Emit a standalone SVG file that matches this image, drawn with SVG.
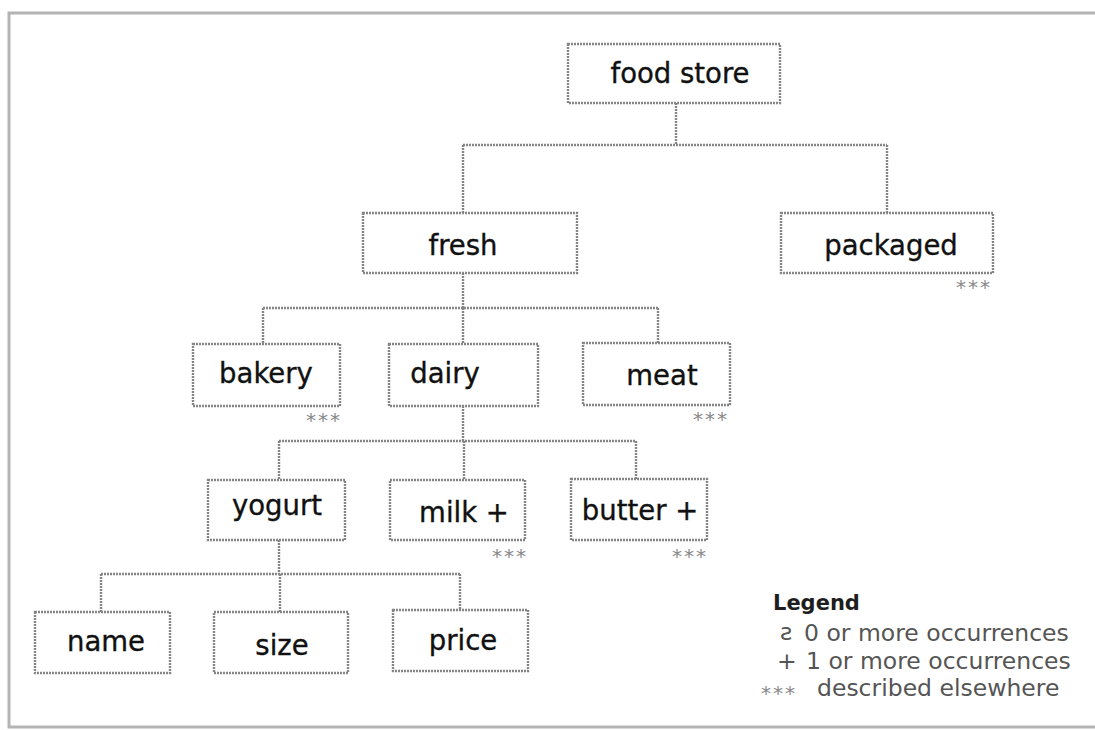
<svg xmlns="http://www.w3.org/2000/svg" width="1095" height="730" viewBox="0 0 1095 730">
<style>
.box{fill:#fff;stroke:#858585;stroke-width:2.4;stroke-dasharray:2 1}
.lbl{font-family:"DejaVu Sans",Verdana,sans-serif;font-size:27.5px;fill:#111;text-anchor:middle;stroke:#111;stroke-width:0.35}
.stars{font-family:"DejaVu Sans",sans-serif;font-size:20px;fill:#888;letter-spacing:2px}
.conn{fill:none;stroke:#858585;stroke-width:2.4;stroke-dasharray:2 1}
.leg{font-family:"DejaVu Sans",Verdana,sans-serif;font-size:23.5px;fill:#555}
</style>
<rect x="0" y="0" width="1095" height="730" fill="#fff"/>
<rect x="9" y="13" width="1092" height="714" fill="none" stroke="#b4b4b4" stroke-width="3"/>
<g id="connectors">
<path class="conn" d="M676 103V145M463 145H887M463 145V213M887 145V213"/>
<path class="conn" d="M463 273V308M263 308H658M263 308V344M463 308V344M658 308V343"/>
<path class="conn" d="M463 406V441M279 441H636M279 441V480M464 441V480M636 441V479"/>
<path class="conn" d="M279 540V574M101 574H460M101 574V612M280 574V612M460 574V610"/>
</g>
<g id="food-store"><rect class="box" x="568" y="44" width="212" height="59"/><text class="lbl" x="680" y="83">food store</text></g>
<g id="fresh"><rect class="box" x="363" y="213" width="214" height="60"/><text class="lbl" x="463" y="255">fresh</text></g>
<g id="packaged"><rect class="box" x="781" y="213" width="212" height="60"/><text class="lbl" x="891" y="255">packaged</text><text class="stars" x="956" y="294">***</text></g>
<g id="bakery"><rect class="box" x="193" y="344" width="147" height="62"/><text class="lbl" x="266" y="383">bakery</text><text class="stars" x="306" y="427">***</text></g>
<g id="dairy"><rect class="box" x="389" y="344" width="149" height="62"/><text class="lbl" x="445" y="383">dairy</text></g>
<g id="meat"><rect class="box" x="583" y="343" width="147" height="62"/><text class="lbl" x="662" y="385">meat</text><text class="stars" x="693" y="426">***</text></g>
<g id="yogurt"><rect class="box" x="208" y="480" width="137" height="60"/><text class="lbl" x="277" y="515">yogurt</text></g>
<g id="milk"><rect class="box" x="390" y="480" width="135" height="60"/><text class="lbl" x="464" y="522">milk +</text><text class="stars" x="492" y="563">***</text></g>
<g id="butter"><rect class="box" x="571" y="479" width="136" height="61"/><text class="lbl" x="640" y="520">butter +</text><text class="stars" x="672" y="563">***</text></g>
<g id="name"><rect class="box" x="35" y="612" width="135" height="61"/><text class="lbl" x="106" y="651">name</text></g>
<g id="size"><rect class="box" x="214" y="612" width="134" height="61"/><text class="lbl" x="282" y="655">size</text></g>
<g id="price"><rect class="box" x="393" y="610" width="135" height="61"/><text class="lbl" x="463" y="650">price</text></g>
<g id="legend">
<text x="773" y="610" font-family="DejaVu Sans,Verdana,sans-serif" font-size="21" font-weight="bold" fill="#1e1e1e">Legend</text>
<text class="leg" x="780" y="640" font-size="19">ƨ</text>
<text class="leg" x="804" y="641">0 or more occurrences</text>
<text class="leg" x="777" y="669">+</text>
<text class="leg" x="806" y="669">1 or more occurrences</text>
<text class="stars" x="761" y="700">***</text>
<text class="leg" x="817" y="696">described elsewhere</text>
</g>
</svg>
